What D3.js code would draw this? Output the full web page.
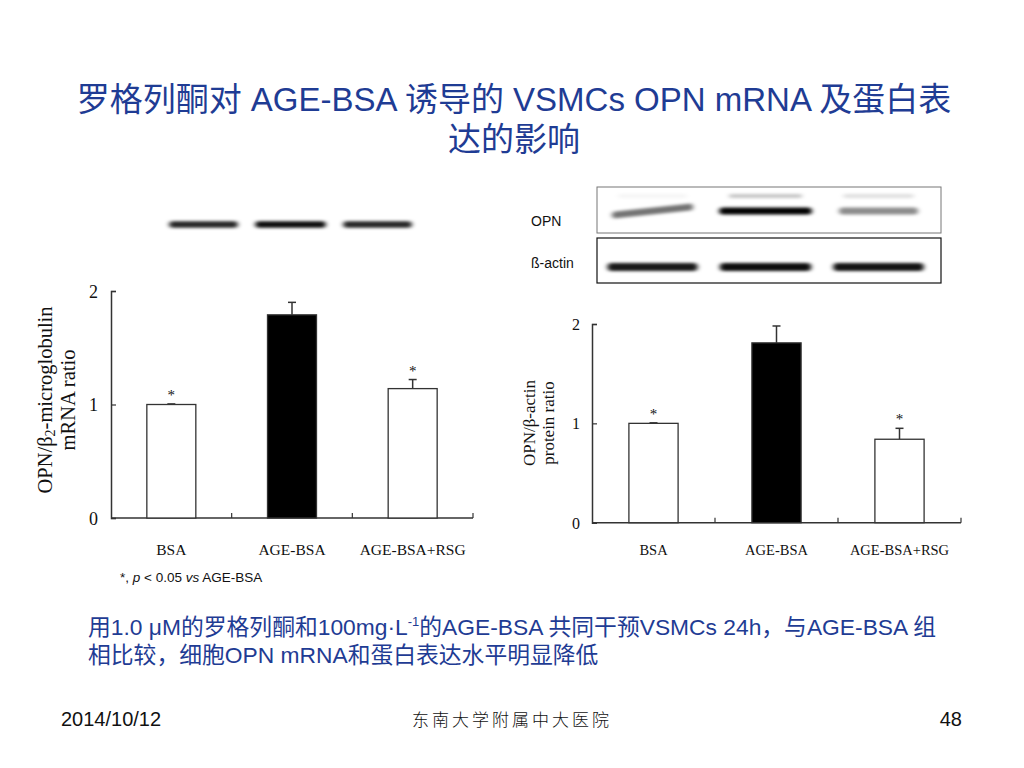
<!DOCTYPE html>
<html>
<head>
<meta charset="utf-8">
<script src="https://cdn.jsdelivr.net/npm/d3@7"></script>
<style>
  html, body { margin: 0; padding: 0; background: #fff; }
  svg { display: block; }
  .serif { font-family: "Liberation Serif", "Times New Roman", serif; }
  .sans { font-family: "Liberation Sans", Arial, "Noto Sans CJK SC", sans-serif; }
</style>
</head>
<body>
<svg id="slide" width="1024" height="768"></svg>
<script>
// group names shared by both panels
var groups = ['BSA', 'AGE-BSA', 'AGE-BSA+RSG'];

// OPN / b2-microglobulin mRNA ratio
var mrnaMean = [1.0, 1.79, 1.14];
var mrnaErr  = [0.005, 0.11, 0.08];
var mrnaSig  = [true, false, true];

// OPN / b-actin protein ratio
var protMean = [1.0, 1.81, 0.84];
var protErr  = [0.005, 0.17, 0.11];
var protSig  = [true, false, true];

// relative band darkness on the blots
var mrnaBlot  = [0.85, 0.95, 0.85];
var opnBlot   = [0.55, 1.00, 0.45];
var opnUpper  = [0.04, 0.22, 0.12];
var actinBlot = [0.90, 0.95, 0.92];

var yTicks = [0, 1, 2];

var svg = d3.select('#slide');
var blue = '#1f3c94';

var defs = svg.append('defs');
defs.append('filter').attr('id', 'blur').attr('x', '-30%').attr('y', '-200%')
  .attr('width', '160%').attr('height', '500%')
  .append('feGaussianBlur').attr('stdDeviation', '2.6 1.7');

// ---- title ----
var title = svg.append('text')
  .attr('text-anchor', 'middle')
  .attr('fill', blue)
  .style('font-family', '"Liberation Sans", Arial, "Noto Sans CJK SC", sans-serif')
  .style('font-size', '33px');
title.append('tspan').attr('x', 514).attr('y', 111)
  .text('罗格列酮对 AGE-BSA 诱导的 VSMCs OPN mRNA 及蛋白表');
title.append('tspan').attr('x', 514).attr('y', 151).text('达的影响');

// ---- a bar chart panel ----
function barPanel(opt) {
  var g = svg.append('g');
  var x = d3.scaleBand().domain(groups).range([opt.x0, opt.x1])
    .paddingInner(opt.pad).paddingOuter(opt.pad / 2);
  var y = d3.scaleLinear().domain([0, 2]).range([opt.y0, opt.y2]);

  var yAxis = d3.axisLeft(y).tickValues(yTicks).tickFormat(d3.format('d'))
    .tickSize(-5).tickPadding(opt.tickPad);
  var ya = g.append('g').attr('transform', 'translate(' + opt.x0 + ',0)').call(yAxis);
  ya.select('.domain').attr('stroke', '#333').attr('stroke-width', 1.5);
  ya.selectAll('.tick line').attr('stroke', '#333').attr('stroke-width', 1.2);
  ya.selectAll('text').attr('class', 'serif').style('font-size', opt.tickFont + 'px')
    .attr('fill', '#111').attr('dy', '0.35em');

  // x axis line with ticks at group boundaries
  g.append('line')
    .attr('x1', opt.x0).attr('x2', opt.x1)
    .attr('y1', y(0)).attr('y2', y(0))
    .attr('stroke', '#333').attr('stroke-width', 1.5);
  var bounds = groups.map(function (d) { return x(d) + x.bandwidth() + x.step() * opt.pad / 2; });
  g.selectAll('.xb').data(bounds).enter().append('line')
    .attr('x1', function (d) { return d; }).attr('x2', function (d) { return d; })
    .attr('y1', y(0)).attr('y2', y(0) - 5)
    .attr('stroke', '#333').attr('stroke-width', 1.2);

  g.selectAll('.xl').data(groups).enter().append('text')
    .attr('class', 'serif')
    .attr('x', function (d) { return x(d) + x.bandwidth() / 2; })
    .attr('y', 555)
    .attr('text-anchor', 'middle')
    .style('font-size', opt.catFont + 'px')
    .attr('fill', '#111')
    .text(function (d) { return d; });

  // error bars (upper only)
  groups.forEach(function (d, i) {
    var cx = x(d) + x.bandwidth() / 2;
    var top = y(opt.mean[i] + opt.err[i]);
    g.append('line').attr('x1', cx).attr('x2', cx)
      .attr('y1', y(opt.mean[i])).attr('y2', top)
      .attr('stroke', '#333').attr('stroke-width', 1.5);
    g.append('line').attr('x1', cx - 4).attr('x2', cx + 4)
      .attr('y1', top).attr('y2', top)
      .attr('stroke', '#333').attr('stroke-width', 1.5);
    if (opt.sig[i]) {
      g.append('text').attr('class', 'serif')
        .attr('x', cx).attr('y', top - 4)
        .attr('text-anchor', 'middle')
        .style('font-size', '15px').attr('fill', '#111')
        .text('*');
    }
  });

  g.selectAll('.bar').data(groups).enter().append('rect')
    .attr('x', function (d) { return x(d); })
    .attr('y', function (d, i) { return y(opt.mean[i]); })
    .attr('width', x.bandwidth())
    .attr('height', function (d, i) { return y(0) - y(opt.mean[i]); })
    .attr('fill', function (d, i) { return i === 1 ? '#000' : '#fff'; })
    .attr('stroke', '#333').attr('stroke-width', 1.3);

  // rotated axis title
  var yl = g.append('text').attr('class', 'serif')
    .attr('transform', 'translate(' + opt.labelX + ',' + opt.labelY + ') rotate(-90)')
    .attr('text-anchor', 'middle')
    .style('font-size', opt.labelFont + 'px').attr('fill', '#111');
  opt.label(yl);
  return x;
}

barPanel({
  x0: 111, x1: 473, y0: 518, y2: 291, pad: 0.594,
  mean: mrnaMean, err: mrnaErr, sig: mrnaSig,
  tickPad: 13, tickFont: 18, catFont: 15.5, labelFont: 20.5,
  labelX: 52, labelY: 400,
  label: function (t) {
    t.append('tspan').attr('x', 0).attr('dy', 0).text('OPN/β');
    t.append('tspan').style('font-size', '14px').attr('dy', 3).text('2');
    t.append('tspan').attr('dy', -3).text('-microglobulin');
    t.append('tspan').attr('x', 0).attr('dy', 23).text('mRNA ratio');
  }
});

barPanel({
  x0: 592, x1: 961, y0: 522.7, y2: 324, pad: 0.6,
  mean: protMean, err: protErr, sig: protSig,
  tickPad: 12, tickFont: 16, catFont: 14.5, labelFont: 17,
  labelX: 535, labelY: 423,
  label: function (t) {
    t.append('tspan').attr('x', 0).attr('dy', 0).text('OPN/β-actin');
    t.append('tspan').attr('x', 0).attr('dy', 19).text('protein ratio');
  }
});

// ---- blots ----
function blot(vals, lane, cy, h, opt) {
  var g = svg.append('g').attr('filter', 'url(#blur)');
  var wid = function (v) { return lane.step() * (0.6 + 0.22 * v); };
  g.selectAll('rect').data(groups).enter().append('rect')
    .attr('x', function (d, i) { return lane(d) + lane.bandwidth() / 2 - wid(vals[i]) / 2; })
    .attr('y', cy - h / 2)
    .attr('width', function (d, i) { return wid(vals[i]); })
    .attr('height', h)
    .attr('rx', h / 2)
    .attr('fill', '#000')
    .attr('opacity', function (d, i) { return vals[i]; })
    .attr('transform', function (d, i) {
      if (!opt || !opt.tilt || i !== 0) return null;
      var cx = lane(d) + lane.bandwidth() / 2;
      return 'rotate(-6,' + cx + ',' + cy + ')';
    });
  return g;
}

// mRNA gel (left, no frame)
var laneL = d3.scaleBand().domain(groups).range([160, 421]).padding(0);
blot(mrnaBlot, laneL, 224.5, 6.5);

// protein western blot (right)
var laneR = d3.scaleBand().domain(groups).range([596, 935]).padding(0);
svg.append('rect').attr('x', 597).attr('y', 187).attr('width', 344).attr('height', 46)
  .attr('fill', 'none').attr('stroke', '#777').attr('stroke-width', 1);
svg.append('rect').attr('x', 597).attr('y', 238).attr('width', 344).attr('height', 45)
  .attr('fill', 'none').attr('stroke', '#111').attr('stroke-width', 1.2);
blot(opnBlot, laneR, 211, 7, { tilt: true });
blot(opnUpper, laneR, 196, 4);
blot(actinBlot, laneR, 267, 8);

svg.append('text').attr('class', 'sans').attr('x', 531).attr('y', 226)
  .style('font-size', '14px').attr('fill', '#111').text('OPN');
svg.append('text').attr('class', 'sans').attr('x', 531).attr('y', 268)
  .style('font-size', '14px').attr('fill', '#111').text('ß-actin');

// ---- footnote ----
var fn = svg.append('text').attr('class', 'sans').attr('x', 120).attr('y', 582)
  .style('font-size', '13.5px').attr('fill', '#111');
fn.append('tspan').text('*, ');
fn.append('tspan').style('font-style', 'italic').text('p');
fn.append('tspan').text(' < 0.05 ');
fn.append('tspan').style('font-style', 'italic').text('vs');
fn.append('tspan').text(' AGE-BSA');

// ---- body text ----
var body = svg.append('text')
  .attr('fill', blue)
  .style('font-family', '"Liberation Sans", Arial, "Noto Sans CJK SC", sans-serif')
  .style('font-size', '22.8px');
var l1 = body.append('tspan').attr('x', 88).attr('y', 635);
l1.append('tspan').text('用1.0 μM的罗格列酮和100mg·L');
l1.append('tspan').attr('dy', -9).style('font-size', '13px').text('-1');
l1.append('tspan').attr('dy', 9).text('的AGE-BSA 共同干预VSMCs 24h，与AGE-BSA 组');
body.append('tspan').attr('x', 88).attr('y', 663).text('相比较，细胞OPN mRNA和蛋白表达水平明显降低');

// ---- footer ----
svg.append('text').attr('x', 61).attr('y', 726)
  .style('font-family', '"Liberation Sans Narrow", "Liberation Sans", Arial, sans-serif')
  .style('font-size', '20px').attr('fill', '#111').text('2014/10/12');
svg.append('text').attr('x', 512).attr('y', 726).attr('text-anchor', 'middle')
  .style('font-family', '"Noto Sans CJK SC", sans-serif')
  .style('font-size', '17px').style('font-weight', 300)
  .style('letter-spacing', '3px').attr('fill', '#111').text('东南大学附属中大医院');
svg.append('text').attr('x', 962).attr('y', 726)
  .attr('text-anchor', 'end')
  .style('font-family', '"Liberation Sans Narrow", "Liberation Sans", Arial, sans-serif')
  .style('font-size', '20px').attr('fill', '#111').text('48');
</script>
</body>
</html>
